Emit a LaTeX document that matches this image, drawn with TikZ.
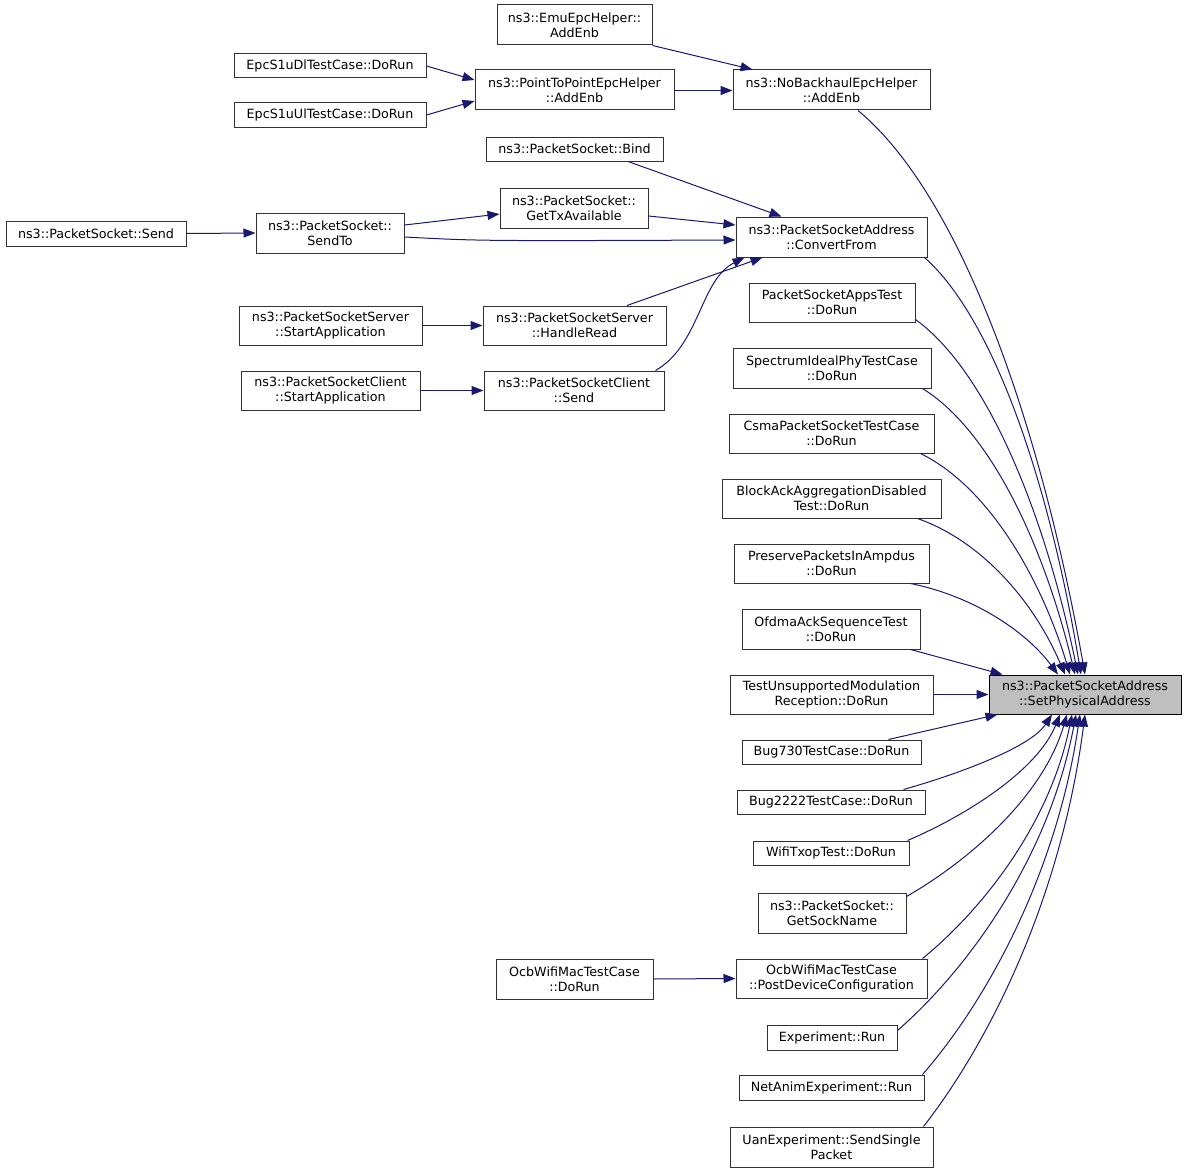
\documentclass[tikz,border=0pt]{standalone}
\usepackage{fontspec}
\setmainfont{DejaVu Sans}
\usetikzlibrary{arrows.meta,calc}
\definecolor{edgeblue}{RGB}{25,25,112}
\definecolor{boxline}{RGB}{50,50,50}
\definecolor{rootfill}{RGB}{191,191,191}
\begin{document}
\begin{tikzpicture}[x=1pt,y=-1pt,
  fn/.style={draw=boxline, line width=1pt, fill=white, inner sep=0pt, align=center, font=\fontsize{12.7}{14.7}\selectfont},
  root/.style={fn, draw=black, fill=rootfill},
  call/.style={draw=edgeblue, line width=1pt, -{Triangle[length=12pt,width=9pt]}},
]
\useasboundingbox (0,0) rectangle (1187,1172);

\node[fn, minimum width=155, minimum height=40] (emu) at (574.5,25) {ns3::EmuEpcHelper::\\AddEnb};
\node[fn, minimum width=192, minimum height=24] (dl) at (330,66) {EpcS1uDlTestCase::DoRun};
\node[fn, minimum width=199, minimum height=40] (p2p) at (574.5,90) {ns3::PointToPointEpcHelper\\::AddEnb};
\node[fn, minimum width=192, minimum height=24] (ul) at (330,115) {EpcS1uUlTestCase::DoRun};
\node[fn, minimum width=197, minimum height=40] (nob) at (831.5,90) {ns3::NoBackhaulEpcHelper\\::AddEnb};
\node[fn, minimum width=177, minimum height=24] (bind) at (574.5,149) {ns3::PacketSocket::Bind};
\node[fn, minimum width=148, minimum height=40] (gettx) at (574,208) {ns3::PacketSocket::\\GetTxAvailable};
\node[fn, minimum width=180, minimum height=25] (send) at (96,233.5) {ns3::PacketSocket::Send};
\node[fn, minimum width=148, minimum height=40] (sendto) at (330,233) {ns3::PacketSocket::\\SendTo};
\node[fn, minimum width=191, minimum height=40] (convfrom) at (831.5,237) {ns3::PacketSocketAddress\\::ConvertFrom};
\node[fn, minimum width=166, minimum height=39] (appstest) at (832,302.5) {PacketSocketAppsTest\\::DoRun};
\node[fn, minimum width=183, minimum height=39] (serverstart) at (330.5,325.5) {ns3::PacketSocketServer\\::StartApplication};
\node[fn, minimum width=183, minimum height=39] (handleread) at (574.5,325.5) {ns3::PacketSocketServer\\::HandleRead};
\node[fn, minimum width=198, minimum height=40] (spectrum) at (832,368) {SpectrumIdealPhyTestCase\\::DoRun};
\node[fn, minimum width=179, minimum height=39] (clientstart) at (330.5,390.5) {ns3::PacketSocketClient\\::StartApplication};
\node[fn, minimum width=180, minimum height=39] (clientsend) at (574,390.5) {ns3::PacketSocketClient\\::Send};
\node[fn, minimum width=205, minimum height=39] (csma) at (831.5,433.5) {CsmaPacketSocketTestCase\\::DoRun};
\node[fn, minimum width=219, minimum height=39] (blockack) at (831.5,498.5) {BlockAckAggregationDisabled\\Test::DoRun};
\node[fn, minimum width=195, minimum height=39] (preserve) at (831.5,563.5) {PreservePacketsInAmpdus\\::DoRun};
\node[fn, minimum width=178, minimum height=40] (ofdma) at (831,629) {OfdmaAckSequenceTest\\::DoRun};
\node[fn, minimum width=203, minimum height=39] (testunsup) at (831.5,694.5) {TestUnsupportedModulation\\Reception::DoRun};
\node[root, minimum width=192, minimum height=39] (setphys) at (1085,694.5) {ns3::PacketSocketAddress\\::SetPhysicalAddress};
\node[fn, minimum width=179, minimum height=24] (bug730) at (831.5,752) {Bug730TestCase::DoRun};
\node[fn, minimum width=188, minimum height=24] (bug2222) at (831,802) {Bug2222TestCase::DoRun};
\node[fn, minimum width=156, minimum height=24] (wifitxop) at (831,853) {WifiTxopTest::DoRun};
\node[fn, minimum width=148, minimum height=40] (getsock) at (832,913) {ns3::PacketSocket::\\GetSockName};
\node[fn, minimum width=157, minimum height=40] (ocbdorun) at (574.5,979) {OcbWifiMacTestCase\\::DoRun};
\node[fn, minimum width=191, minimum height=39] (postdev) at (831.5,978.5) {OcbWifiMacTestCase\\::PostDeviceConfiguration};
\node[fn, minimum width=130, minimum height=25] (experiment) at (832,1037.5) {Experiment::Run};
\node[fn, minimum width=185, minimum height=25] (netanim) at (831.5,1087.5) {NetAnimExperiment::Run};
\node[fn, minimum width=203, minimum height=40] (uan) at (831.5,1147) {UanExperiment::SendSingle\\Packet};

% left part
\draw[call] (emu.south east) -- ($(nob.north west)+(20,0)$);
\draw[call] (dl.east) -- ($(p2p.west)+(0,-10)$);
\draw[call] (ul.east) -- ($(p2p.west)+(0,11)$);
\draw[call] ($(p2p.east)+(0,0.5)$) -- ($(nob.west)+(0,0.5)$);
\draw[call] (send.east) -- (sendto.west);
\draw[call] ($(sendto.east)+(0,-8)$) -- ($(gettx.west)+(0,6)$);
\draw[call] ($(sendto.east)+(0,4)$) .. controls (480,241) .. ($(convfrom.west)+(0,3)$);
\draw[call] ($(gettx.east)+(0,8)$) -- ($(convfrom.west)+(0,-12)$);
\draw[call] ($(bind.south)+(53.5,0)$) -- ($(convfrom.north west)+(46,0)$);
\draw[call] ($(handleread.north)+(52.5,0)$) -- ($(convfrom.south west)+(27,0)$);
\draw[call] ($(clientsend.north east)+(-9,0)$) .. controls (700,345) and (700,280) .. ($(convfrom.south west)+(9,0)$);
\draw[call] (serverstart.east) -- (handleread.west);
\draw[call] (clientstart.east) -- (clientsend.west);
\draw[call] (ocbdorun.east) -- (postdev.west);

% into SetPhysicalAddress from above
\draw[call] ($(nob.south)+(26.5,0)$) .. controls (960,195) and (1040,421) .. (setphys.north);
\draw[call] ($(convfrom.south east)+(-3,0)$) .. controls (995,320) and (1050,487) .. ($(setphys.north)+(-4,0)$);
\draw[call] ($(appstest.south east)+(0,-3)$) .. controls (988,372) and (1045,515) .. ($(setphys.north)+(-7,0)$);
\draw[call] ($(spectrum.south east)+(-9,0)$) .. controls (991,431) and (1044,546) .. ($(setphys.north)+(-10,0)$);
\draw[call] ($(csma.south east)+(-14,0)$) .. controls (987,486) and (1040,575) .. ($(setphys.north)+(-15,0)$);
\draw[call] ($(blockack.south east)+(-24,0)$) .. controls (984,542) and (1035,604) .. ($(setphys.north)+(-20,0)$);
\draw[call] ($(preserve.south east)+(-19,0)$) .. controls (977,597) and (1028,634) .. ($(setphys.north)+(-27,0)$);
\draw[call] ($(ofdma.south east)+(-10,0)$) -- ($(setphys.north west)+(14,0)$);
\draw[call] (testunsup.east) -- (setphys.west);

% into SetPhysicalAddress from below
\draw[call] ($(bug730.north east)+(-33,0)$) -- ($(setphys.south west)+(9,0)$);
\draw[call] ($(bug2222.north east)+(-22,0)$) .. controls (955,775) and (1030,748) .. ($(setphys.south)+(-33,0)$);
\draw[call] ($(wifitxop.north east)+(-2,0)$) .. controls (965,816) and (1037,771) .. ($(setphys.south)+(-25,0)$);
\draw[call] ($(getsock.north east)+(0,4)$) .. controls (970,860) and (1043,796) .. ($(setphys.south)+(-18,0)$);
\draw[call] ($(postdev.north east)+(-5,0)$) .. controls (982,910) and (1050,824) .. ($(setphys.south)+(-13,0)$);
\draw[call] ($(experiment.north east)+(0,6)$) .. controls (969,968) and (1049,857) .. ($(setphys.south)+(-9,0)$);
\draw[call] ($(netanim.north east)+(-2,0)$) .. controls (985,1003) and (1056,876) .. ($(setphys.south)+(-5,0)$);
\draw[call] ($(uan.north east)+(-10,0)$) .. controls (988,1044) and (1061,900) .. (setphys.south);
\end{tikzpicture}
\end{document}
